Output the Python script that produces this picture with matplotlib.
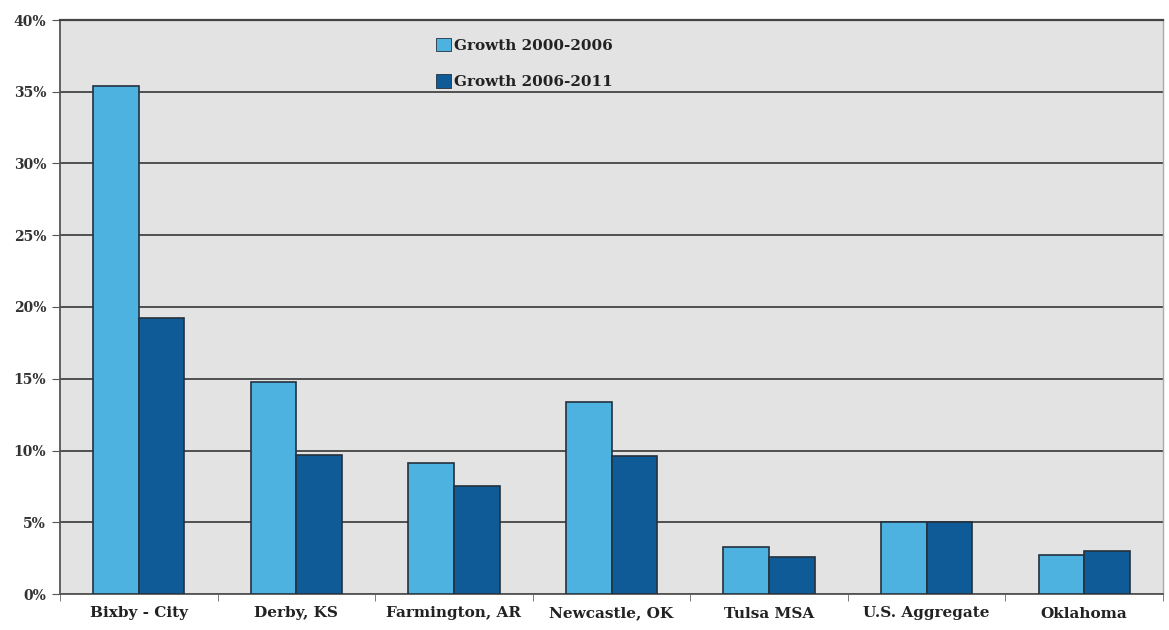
import matplotlib
matplotlib.use("Agg")
import matplotlib.pyplot as plt
import numpy as np

categories = ["Bixby - City", "Derby, KS", "Farmington, AR", "Newcastle, OK",
              "Tulsa MSA", "U.S. Aggregate", "Oklahoma"]
growth_2000_2006 = [35.4, 14.8, 9.1, 13.4, 3.3, 5.0, 2.7]
growth_2006_2011 = [19.2, 9.7, 7.5, 9.6, 2.6, 5.0, 3.0]
series_labels = ["Growth 2000-2006", "Growth 2006-2011"]
y_ticks = [0, 5, 10, 15, 20, 25, 30, 35, 40]

light_blue = "#4db2e0"
dark_blue = "#0e5b98"
edge = "#25313d"

plt.rcParams["font.family"] = ["DejaVu Serif"]

fig = plt.figure(figsize=(11.69, 6.30), dpi=100)
ax = fig.add_axes([60 / 1169, 1 - 594 / 630, 1103 / 1169, 574 / 630])
ax.set_facecolor("#e3e3e3")

x = np.arange(len(categories))
w = 0.29
ax.bar(x - w / 2, growth_2000_2006, w, color=light_blue, edgecolor=edge,
       linewidth=1.2, label=series_labels[0], zorder=3)
ax.bar(x + w / 2, growth_2006_2011, w, color=dark_blue, edgecolor=edge,
       linewidth=1.2, label=series_labels[1], zorder=3)

ax.set_xlim(-0.5, len(categories) - 0.5)
ax.set_ylim(0, 40)
ax.set_yticks(y_ticks)
ax.set_yticklabels([f"{v}%" for v in y_ticks], fontsize=10, fontweight="bold",
                   color="#333333")
ax.yaxis.grid(True, color="#444444", linewidth=1.3, zorder=1)
ax.set_axisbelow(True)

ax.set_xticks(x)
ax.set_xticklabels(categories, fontsize=11, fontweight="bold", color="#222222")
ax.tick_params(axis="x", length=0, pad=9)
ax.set_xticks(np.arange(len(categories) + 1) - 0.5, minor=True)
ax.tick_params(axis="x", which="minor", length=5, color="#666666")
ax.tick_params(axis="y", length=6, color="#555555", pad=4)

for side in ["left", "bottom"]:
    ax.spines[side].set_color("#555555")
    ax.spines[side].set_linewidth(1.3)
ax.spines["top"].set_color("#444444")
ax.spines["top"].set_linewidth(1.6)
ax.spines["right"].set_color("#aaaaaa")
ax.spines["right"].set_linewidth(1.0)

leg = ax.legend(loc="upper left", bbox_to_anchor=(0.328, 0.993), frameon=False,
                prop={"family": "DejaVu Serif", "weight": "bold", "size": 11},
                handlelength=1.0, handleheight=1.0, handletextpad=0.2,
                labelspacing=1.4)
for t in leg.get_texts():
    t.set_color("#222222")
for h in leg.legend_handles:
    h.set_linewidth(0.6)

fig.savefig("out.png", dpi=100, facecolor="white")
